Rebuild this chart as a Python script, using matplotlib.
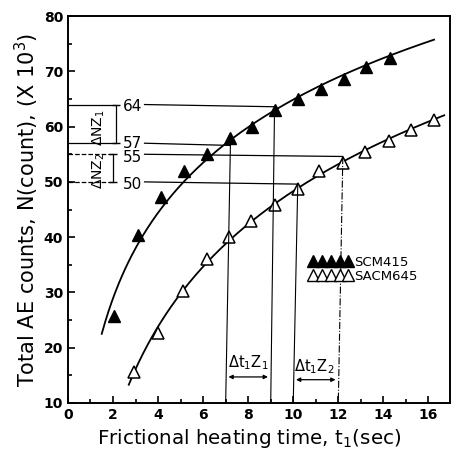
import numpy as np
import matplotlib
matplotlib.use("Agg")
import matplotlib.pyplot as plt
from matplotlib.lines import Line2D

# data
t_scm = [2.05, 3.1, 4.14, 5.16, 6.18, 7.21, 8.18, 9.17, 10.2, 11.24, 12.27, 13.23, 14.29]
n_scm = [25.7, 40.4, 47.2, 52.0, 55.0, 58.0, 60.0, 63.0, 65.0, 66.8, 68.6, 70.8, 72.4]
t_sacm = [2.93, 4.0, 5.09, 6.15, 7.15, 8.14, 9.17, 10.2, 11.16, 12.2, 13.2, 14.23, 15.22, 16.25]
n_sacm = [15.6, 22.6, 30.3, 36.1, 40.1, 43.0, 45.9, 48.8, 51.9, 53.5, 55.5, 57.4, 59.4, 61.2]

levels = [64, 57, 55, 50]
level_t = [9.17, 7.21, 12.2, 10.2]
bracket_t = [9.0, 7.0, 12.0, 10.0]

plt.rcParams["font.family"] = "DejaVu Sans"
fig = plt.figure(figsize=(4.53, 4.61), dpi=100)
ax = fig.add_axes([0.150, 0.126, 0.843, 0.839])

# log fits through the points
for t, n, lo, hi in [(t_scm, n_scm, 1.5, 16.25), (t_sacm, n_sacm, 2.7, 16.7)]:
    b, a = np.polyfit(np.log(t), n, 1)
    tt = np.linspace(lo, hi, 200)
    ax.plot(tt, a + b * np.log(tt), color="black", lw=1.3)

ax.plot(t_scm, n_scm, "^", color="black", ms=9, mec="black")
ax.plot(t_sacm, n_sacm, "^", color="black", ms=9, mfc="white", mec="black", mew=1.1)

# level lines on the left
left_style = ["-", "-", "--", "--"]
label_dy = [-0.3, 0.0, -0.5, -0.5]
for lv, tx, st, dy in zip(levels, level_t, left_style, label_dy):
    ax.plot([0, 2.1], [lv, lv], color="black", lw=0.9, ls=st)
    ax.plot([3.4, tx], [lv, lv - 0.4], color="black", lw=0.9)
    ax.text(2.45, lv + dy, str(lv), fontsize=11, va="center", ha="left")

# delta N brackets
ax.plot([2.12, 2.12], [64, 57], color="black", lw=0.9, marker="_", ms=6)
ax.plot([2.0, 2.0], [55, 50], color="black", lw=0.9, marker="_", ms=6)
ax.text(1.35, 59.8, "ΔNZ$_1$", rotation=90, fontsize=10, ha="center", va="center")
ax.text(1.35, 52.0, "ΔNZ$_2$", rotation=90, fontsize=10, ha="center", va="center")

# vertical drop lines
vstyle = ["-", "-", "-.", "-"]
for lv, tx, bx, st in zip(levels, level_t, bracket_t, vstyle):
    ax.plot([tx, bx], [lv - 0.5, 10], color="black", lw=0.8, ls=st)

# delta t arrows
ax.annotate("", xy=(9.0, 14.7), xytext=(7.0, 14.7),
            arrowprops=dict(arrowstyle="<|-|>", color="black", lw=0.9, mutation_scale=6))
ax.annotate("", xy=(12.0, 14.2), xytext=(10.0, 14.2),
            arrowprops=dict(arrowstyle="<|-|>", color="black", lw=0.9, mutation_scale=6))
ax.text(8.0, 17.3, "Δt$_1$Z$_1$", fontsize=10.5, ha="center", va="center")
ax.text(10.95, 16.6, "Δt$_1$Z$_2$", fontsize=10.5, ha="center", va="center")

# legend
h1 = Line2D([], [], ls="none", marker="^", color="black", ms=8)
h2 = Line2D([], [], ls="none", marker="^", color="black", mfc="white", ms=8)
ax.legend([h1, h2], ["SCM415", "SACM645"], numpoints=5, frameon=False,
          loc="center left", bbox_to_anchor=(10.4, 34.2), bbox_transform=ax.transData,
          handlelength=3.3, handletextpad=0.15, labelspacing=0.1, borderpad=0,
          fontsize=9.5)

ax.set_xlim(0, 16.95)
ax.set_ylim(10, 80)
ax.set_xticks(range(0, 17, 2))
ax.set_xticks(range(0, 17), minor=True)
ax.set_yticks(range(10, 81, 10))
ax.set_yticks(range(10, 81, 5), minor=True)
ax.tick_params(direction="in", which="both", labelsize=10, width=1.2)
ax.tick_params(which="major", length=5)
ax.tick_params(which="minor", length=3)
for lab in ax.get_xticklabels() + ax.get_yticklabels():
    lab.set_fontweight("bold")
for sp in ax.spines.values():
    sp.set_linewidth(1.4)

ax.set_xlabel("Frictional heating time, t$_1$(sec)", fontsize=14.3)
ax.xaxis.set_label_coords(0.475, -0.062)
ax.set_ylabel("Total AE counts, N(count), (X 10$^3$)", fontsize=15, labelpad=2)

fig.savefig("out.png", dpi=100)
